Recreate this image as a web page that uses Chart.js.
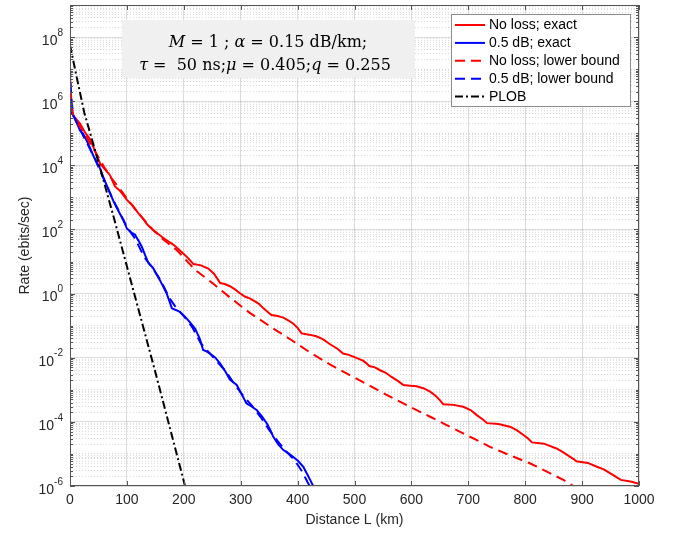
<!DOCTYPE html>
<html lang="en">
  <head>
    <meta charset="UTF-8" />
    <title>Rate vs distance</title>
    <script src="https://cdn.jsdelivr.net/npm/chart.js"></script>
    <style>
      body { margin: 0; background: #fff; }
      canvas { display: block; }
    </style>
  </head>
  <body>
    <canvas id="rateChart" width="675" height="533"></canvas>
    <script>
      // Values: distance in km, rate as log10(ebits/sec)
      const redExactKm = [0, 4, 8, 17.6, 26, 35, 44, 53, 61, 70, 79, 88, 99.6, 110, 120, 128, 135, 145, 155, 163, 172, 182, 199, 208, 217, 230, 243, 253, 260.6, 264, 272, 281, 290, 298, 308, 315, 322, 332, 340, 348, 354, 365, 375, 385, 392, 400, 407, 420, 433, 445, 457, 470, 480, 490, 501, 515, 520, 526, 536, 545, 555, 565, 576, 586, 598, 609, 621, 633, 642, 650, 656, 674, 691, 704, 715, 725, 733, 753, 773, 785, 797, 805, 812, 833, 855, 867, 879, 885, 890, 910, 926, 938, 949, 959, 968, 985, 1000];
      const redExactLog = [5.71, 5.6, 5.5, 5.3, 5.04, 4.82, 4.45, 4.05, 3.88, 3.7, 3.34, 3.2, 2.93, 2.75, 2.51, 2.35, 2.17, 2.0, 1.86, 1.75, 1.64, 1.52, 1.25, 1.1, 0.92, 0.88, 0.78, 0.62, 0.42, 0.33, 0.3, 0.23, 0.13, 0.02, -0.1, -0.14, -0.21, -0.32, -0.46, -0.58, -0.67, -0.7, -0.75, -0.85, -0.93, -1.07, -1.24, -1.28, -1.33, -1.43, -1.58, -1.72, -1.87, -1.91, -1.99, -2.09, -2.16, -2.26, -2.3, -2.39, -2.47, -2.6, -2.72, -2.85, -2.87, -2.89, -2.95, -3.06, -3.18, -3.32, -3.45, -3.47, -3.53, -3.63, -3.79, -3.92, -4.04, -4.07, -4.15, -4.26, -4.41, -4.52, -4.64, -4.68, -4.83, -4.95, -5.09, -5.16, -5.23, -5.28, -5.4, -5.48, -5.6, -5.71, -5.81, -5.86, -5.93];

      const blueExactKm = [0, 4, 8.8, 17.6, 23, 30, 35, 41, 47, 53, 58, 64, 70, 76, 82, 88, 93, 97, 100, 108, 114, 120, 126, 132, 137.6, 146, 152, 158, 164, 170, 175, 179, 186, 193, 202, 211, 220, 228, 234, 240, 246, 255, 264, 272, 281, 288, 293, 302, 310, 319, 328, 337, 346, 352, 357, 366, 375, 384, 392, 401, 410, 416, 422, 428, 432];
      const blueExactLog = [5.82, 5.62, 5.45, 5.09, 4.99, 4.75, 4.55, 4.3, 4.1, 3.9, 3.65, 3.4, 3.15, 2.9, 2.68, 2.48, 2.32, 2.16, 2.03, 1.9, 1.84, 1.66, 1.47, 1.2, 0.96, 0.8, 0.6, 0.42, 0.21, 0.0, -0.25, -0.46, -0.51, -0.57, -0.72, -0.9, -1.1, -1.4, -1.76, -1.8, -1.87, -1.99, -2.18, -2.4, -2.68, -2.78, -2.85, -3.15, -3.42, -3.52, -3.63, -3.82, -4.05, -4.25, -4.46, -4.7, -4.88, -4.98, -5.09, -5.22, -5.4, -5.6, -5.81, -6.02, -6.15];

      const redBoundKm = [0, 1.5, 3, 6, 10, 20, 30, 40, 50, 60, 72, 88, 105, 118, 134, 148, 163, 188, 220, 251, 281, 316, 353, 391, 423, 456, 486, 515, 545, 574, 603, 633, 662, 691, 715, 738, 773, 808, 838, 867, 882, 895];
      const redBoundLog = [6.8, 6.3, 5.85, 5.55, 5.4, 5.15, 4.85, 4.55, 4.25, 3.95, 3.62, 3.26, 2.85, 2.55, 2.22, 1.95, 1.7, 1.35, 0.74, 0.32, -0.12, -0.6, -1.04, -1.47, -1.85, -2.2, -2.49, -2.76, -3.05, -3.32, -3.58, -3.84, -4.1, -4.36, -4.57, -4.78, -5.04, -5.29, -5.55, -5.81, -5.97, -6.1];

      const blueBoundKm = [0, 1.5, 3, 6, 15, 30, 45, 60, 75, 88, 100, 115, 130, 145, 160, 175, 187, 200, 215, 230, 245, 260, 275, 290, 305, 320, 335, 350, 365, 380, 395, 408, 418, 428];
      const blueBoundLog = [7.06, 6.4, 5.95, 5.55, 5.2, 4.7, 4.15, 3.55, 2.95, 2.5, 2.08, 1.7, 1.15, 0.8, 0.4, -0.15, -0.45, -0.7, -1.05, -1.55, -1.85, -2.15, -2.45, -2.85, -3.2, -3.5, -3.85, -4.25, -4.6, -4.92, -5.2, -5.55, -5.9, -6.2];

      const plobKm = [0, 10, 25, 50, 75, 100, 125, 150, 175, 200, 210];
      const plobLog = [7.75, 6.9, 5.65, 4.1, 2.5, 0.85, -0.8, -2.45, -4.15, -5.85, -6.53];

      const seriesLabels = ["No loss; exact", "0.5 dB; exact", "No loss; lower bound", "0.5 dB; lower bound", "PLOB"];
      const xTickValues = [0, 100, 200, 300, 400, 500, 600, 700, 800, 900, 1000];
      const yLabelExps = [-6, -4, -2, 0, 2, 4, 6, 8];

      const toPoints = (km, lg) => km.map((d, i) => ({ x: d, y: Math.pow(10, lg[i]) }));

      function isEvenDecade(v) {
        const e = Math.log10(v);
        const r = Math.round(e);
        return Math.abs(e - r) < 1e-9 && r % 2 === 0;
      }

      // all log ticks: 1..9 x 10^k
      function yTickValues() {
        const out = [];
        for (let k = -6; k <= 8; k++) {
          for (let m = 1; m <= 9; m++) out.push(parseFloat((m * Math.pow(10, k)).toPrecision(3)));
        }
        out.push(1e9);
        return out;
      }

      const sans = "'Liberation Sans', Arial, sans-serif";
      const serif = "'DejaVu Serif', 'Liberation Serif', serif";

      // draws a centred line of mixed roman/italic text
      function drawMixed(ctx, parts, cx, baseline, size) {
        const fontOf = (p) => (p[1] ? "italic " : "") + size + "px " + serif;
        const total = parts.reduce((sum, p) => {
          ctx.font = fontOf(p);
          return sum + ctx.measureText(p[0]).width;
        }, 0);
        let xx = cx - total / 2;
        parts.forEach((p) => {
          ctx.font = fontOf(p);
          ctx.fillText(p[0], xx, baseline);
          xx += ctx.measureText(p[0]).width;
        });
      }

      // box, tick marks, tick labels, titles, text box and legend
      const decorations = {
        id: "decorations",
        afterDatasetsDraw(chart) {
          const { ctx, chartArea: a, scales } = chart;
          const x = scales.x, y = scales.y;
          ctx.save();
          ctx.strokeStyle = "#555";
          ctx.lineWidth = 1;
          ctx.setLineDash([]);
          ctx.beginPath();
          xTickValues.forEach((v) => {
            const px = Math.round(x.getPixelForValue(v)) + 0.5;
            ctx.moveTo(px, a.bottom);
            ctx.lineTo(px, a.bottom - 5);
            ctx.moveTo(px, a.top);
            ctx.lineTo(px, a.top + 5);
          });
          yTickValues().forEach((v) => {
            const py = Math.round(y.getPixelForValue(v)) + 0.5;
            const len = isEvenDecade(v) ? 5 : 3;
            ctx.moveTo(a.left, py);
            ctx.lineTo(a.left + len, py);
            ctx.moveTo(a.right, py);
            ctx.lineTo(a.right - len, py);
          });
          ctx.stroke();
          ctx.strokeRect(Math.round(a.left) + 0.5, Math.round(a.top) + 0.5, Math.round(a.right - a.left) - 1, Math.round(a.bottom - a.top) - 1);

          ctx.fillStyle = "#262626";
          ctx.textBaseline = "middle";
          ctx.textAlign = "center";
          ctx.font = "14px " + sans;
          xTickValues.forEach((v) => ctx.fillText(String(v), x.getPixelForValue(v), a.bottom + 14));
          ctx.fillText("Distance L (km)", (a.left + a.right) / 2, a.bottom + 34);

          ctx.textAlign = "left";
          yLabelExps.forEach((e) => {
            const py = y.getPixelForValue(Math.pow(10, e));
            const ex = String(e);
            ctx.font = "10px " + sans;
            const we = ctx.measureText(ex).width;
            ctx.font = "14px " + sans;
            const wb = ctx.measureText("10").width;
            const right = a.left - 7;
            ctx.fillText("10", right - we - wb, py + 4);
            ctx.font = "10px " + sans;
            ctx.fillText(ex, right - we, py - 4);
          });

          ctx.save();
          ctx.translate(25, (a.top + a.bottom) / 2);
          ctx.rotate(-Math.PI / 2);
          ctx.textAlign = "center";
          ctx.font = "14px " + sans;
          ctx.fillText("Rate (ebits/sec)", 0, 0);
          ctx.restore();
          ctx.restore();
        },
        afterDraw(chart) {
          const ctx = chart.ctx;
          ctx.save();
          // parameter box
          ctx.fillStyle = "#f0f0f0";
          ctx.fillRect(122, 20, 293, 58);
          ctx.fillStyle = "#000";
          ctx.textAlign = "left";
          ctx.textBaseline = "alphabetic";
          drawMixed(ctx, [["M", 1], [" = 1 ; ", 0], ["\u03B1", 1], [" = 0.15 dB/km;", 0]], 268, 47, 16);
          drawMixed(ctx, [["\u03C4", 1], [" =  50 ns;", 0], ["\u03BC", 1], [" = 0.405;", 0], ["q", 1], [" = 0.255", 0]], 265, 70, 16);

          // legend
          ctx.fillStyle = "#fff";
          ctx.fillRect(451, 14, 179, 92);
          ctx.strokeStyle = "#8c8c8c";
          ctx.lineWidth = 1;
          ctx.strokeRect(451.5, 14.5, 179, 92);
          ctx.font = "14px " + sans;
          ctx.textBaseline = "middle";
          chart.data.datasets.forEach((ds, i) => {
            const ry = 25 + i * 17.9;
            ctx.strokeStyle = ds.borderColor;
            ctx.lineWidth = 2;
            ctx.setLineDash(ds.borderDash || []);
            ctx.beginPath();
            ctx.moveTo(455, ry);
            ctx.lineTo(485, ry);
            ctx.stroke();
            ctx.setLineDash([]);
            ctx.fillStyle = "#000";
            ctx.fillText(ds.label, 489, ry + 0.5);
          });
          ctx.restore();
        },
      };

      new Chart(document.getElementById("rateChart"), {
        type: "line",
        data: {
          datasets: [
            { label: seriesLabels[0], data: toPoints(redExactKm, redExactLog), borderColor: "#ff0000", borderWidth: 2, order: 4 },
            { label: seriesLabels[1], data: toPoints(blueExactKm, blueExactLog), borderColor: "#0000ff", borderWidth: 2, order: 3 },
            { label: seriesLabels[2], data: toPoints(redBoundKm, redBoundLog), borderColor: "#ff0000", borderWidth: 2, borderDash: [10, 6], order: 2 },
            { label: seriesLabels[3], data: toPoints(blueBoundKm, blueBoundLog), borderColor: "#0000ff", borderWidth: 2, borderDash: [10, 6], order: 1 },
            { label: seriesLabels[4], data: toPoints(plobKm, plobLog), borderColor: "#000000", borderWidth: 2, borderDash: [8, 3, 2, 3], order: 0 },
          ],
        },
        options: {
          responsive: false,
          animation: false,
          elements: {
            point: { radius: 0 },
            line: { tension: 0, fill: false },
          },
          layout: { padding: { left: 70, top: 5, right: 36, bottom: 47 } },
          plugins: { legend: { display: false }, tooltip: { enabled: false } },
          scales: {
            x: {
              type: "linear",
              min: 0,
              max: 1000,
              afterFit: (s) => { s.height = 0; },
              afterBuildTicks: (s) => { s.ticks = xTickValues.map((v) => ({ value: v })); },
              ticks: { display: false },
              grid: { color: "rgba(0,0,0,0.14)", drawTicks: false },
              border: { display: false },
            },
            y: {
              type: "logarithmic",
              min: 1e-6,
              max: 1e9,
              afterFit: (s) => { s.width = 0; },
              afterBuildTicks: (s) => { s.ticks = yTickValues().map((v) => ({ value: v })); },
              ticks: { display: false },
              grid: { drawTicks: false, color: "rgba(0,0,0,0.14)" },
              border: {
                display: false,
                dash: (c) => (isEvenDecade(c.tick.value) ? [] : [1, 2]),
              },
            },
          },
        },
        plugins: [decorations],
      });
    </script>
  </body>
</html>
